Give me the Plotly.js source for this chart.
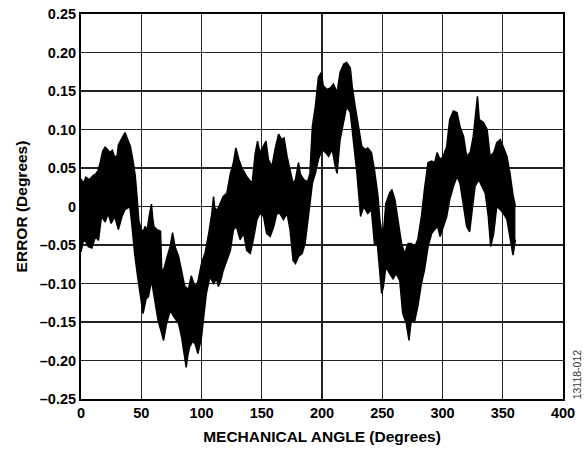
<!DOCTYPE html>
<html>
<head>
<meta charset="utf-8">
<script src="https://cdn.plot.ly/plotly-3.0.1.min.js"></script>
<style>html,body{margin:0;padding:0;background:#fff;}#chart{width:585px;height:449px;}</style>
</head>
<body>
<div id="chart"></div>
<script>
// Upper edge of the error band (mechanical angle in degrees, error in degrees)
const upperAngle = [0,2,4,7,10,12,14,16,18,20,22,24,26,28,30,31,33,35,36.5,38,39,41,43,45,46,47,48,50,52,53,55,56.5,58.5,59.5,60.5,63,66,67,69,71,74,76,78,81,83.5,86,89,91.5,94.5,97,100,103,106,108.5,110,111,113,115,118,121,124,126.5,128.5,131,133.5,137.5,142,144.5,146.5,148.5,151.5,153.5,155.5,158.5,161,164,166.5,168.5,171,173.5,176,178,180.5,182,185,188,190,192,194.5,197,199.5,201,204,207,209.5,212.5,215,218,220.5,223.5,225,227.5,230.5,233,236,238,241,243.5,246.5,248,250.5,253,256,258,260.5,263,266,268.5,271.5,274,277,279.5,282.5,285,288,291,293.5,295.5,298,300.5,303.5,306,309,312,314.5,317.5,320,323,325.5,327,329,330.5,334,337,339.5,342.5,345,348,350.5,353.5,356,358.5,360.5];
const upperError = [0.036,0.030,0.038,0.035,0.040,0.042,0.046,0.057,0.072,0.077,0.074,0.070,0.073,0.064,0.066,0.080,0.086,0.092,0.096,0.090,0.086,0.078,0.061,0.040,0.022,0.004,-0.018,-0.030,-0.032,-0.026,-0.030,-0.013,0.003,-0.015,-0.026,-0.030,-0.032,-0.085,-0.080,-0.068,-0.052,-0.034,-0.052,-0.065,-0.083,-0.103,-0.108,-0.090,-0.104,-0.098,-0.074,-0.060,-0.035,-0.010,0.013,-0.002,-0.005,0.003,0.013,0.017,0.043,0.057,0.076,0.061,0.050,0.039,0.030,0.068,0.085,0.070,0.078,0.085,0.061,0.052,0.074,0.094,0.087,0.089,0.065,0.048,0.030,0.035,0.057,0.042,0.035,0.032,0.043,0.104,0.130,0.168,0.174,0.157,0.152,0.154,0.159,0.148,0.174,0.185,0.187,0.180,0.157,0.130,0.104,0.078,0.074,0.076,0.070,0.048,0.013,-0.017,-0.043,0.004,0.017,0.022,0.009,-0.017,-0.048,-0.061,-0.048,-0.048,-0.052,-0.043,-0.013,0.022,0.057,0.059,0.057,0.070,0.061,0.065,0.078,0.113,0.124,0.122,0.104,0.091,0.065,0.070,0.091,0.113,0.143,0.113,0.109,0.100,0.065,0.070,0.083,0.087,0.078,0.065,0.043,0.015,0.000];

// Lower edge of the error band
const lowerAngle = [0,2,4,6,9,12,14.5,17,20,22.5,25,28,31,34,36.5,40.5,42,44.5,47,50,51.5,54,56,58.5,61.5,64,67,68.5,71,74,77,81,83.5,86,87.3,88.5,90,93,95,97,100,101.5,104,107,110,112.5,114,116,118,121,124,126.5,129,132,135,137.5,140.5,143,146,148.5,151.5,154,157,160,162.5,165,168,171,173.5,176,178,180.5,183.5,186,189,192,194.5,197,200,203,205.5,208.5,211,212.5,215,218,220.5,223.5,226,229,232,234.5,236,238,241,243.5,246,248,249.5,251,253,256,259,261.5,264.5,267,270,272.2,274,277,279.5,282.5,285,288,291,293.5,296,298,300.5,303.5,306,309,312,314.5,317.5,320,322.5,324.5,327,330,332.5,335.5,338,340,342.5,345,348,350.5,353.5,356,358.5,360.5];
const lowerError = [-0.059,-0.044,-0.046,-0.052,-0.054,-0.039,-0.044,-0.013,-0.020,-0.009,-0.022,-0.013,-0.030,-0.013,-0.004,0.000,-0.020,-0.061,-0.091,-0.122,-0.139,-0.120,-0.117,-0.096,-0.122,-0.148,-0.165,-0.174,-0.152,-0.135,-0.143,-0.152,-0.170,-0.200,-0.209,-0.195,-0.183,-0.174,-0.180,-0.191,-0.170,-0.148,-0.113,-0.091,-0.100,-0.094,-0.104,-0.096,-0.083,-0.070,-0.057,-0.030,-0.026,-0.043,-0.035,-0.057,-0.061,-0.043,-0.017,-0.009,-0.013,-0.035,-0.039,-0.026,-0.009,-0.009,-0.017,-0.009,-0.030,-0.070,-0.074,-0.065,-0.061,-0.048,-0.009,0.030,0.043,0.061,0.074,0.070,0.065,0.074,0.052,0.043,0.087,0.113,0.130,0.122,0.087,0.043,-0.013,0.000,-0.004,-0.009,-0.004,-0.048,-0.050,-0.087,-0.113,-0.104,-0.078,-0.087,-0.094,-0.087,-0.096,-0.139,-0.152,-0.174,-0.148,-0.148,-0.130,-0.100,-0.083,-0.052,-0.035,-0.030,-0.026,-0.039,-0.026,-0.013,0.009,0.026,0.039,0.030,0.000,-0.026,-0.033,-0.004,0.026,0.035,0.026,0.017,-0.013,-0.052,-0.035,0.000,-0.004,-0.009,-0.017,-0.039,-0.063,-0.043];

const xTickVals = [0,50,100,150,200,250,300,350,400];
const xTickText = ['0','50','100','150','200','250','300','350','400'];
const yTickVals = [0.25,0.20,0.15,0.10,0.05,0,-0.05,-0.10,-0.15,-0.20,-0.25];
const yTickText = ['0.25','0.20','0.15','0.10','0.05','0','\u20130.05','\u20130.10','\u20130.15','\u20130.20','\u20130.25'];

const FONT = 'Liberation Sans, Arial, Helvetica, sans-serif';

const traces = [
  {x: lowerAngle, y: lowerError, type: 'scatter', mode: 'lines',
   line: {color: '#000', width: 1.5}, hoverinfo: 'skip', showlegend: false},
  {x: upperAngle, y: upperError, type: 'scatter', mode: 'lines',
   fill: 'tonexty', fillcolor: '#000',
   line: {color: '#000', width: 1.5}, hoverinfo: 'skip', showlegend: false}
];

const layout = {
  width: 585, height: 449,
  margin: {l: 81, r: 22, t: 14, b: 50},
  paper_bgcolor: '#fff', plot_bgcolor: '#fff',
  font: {family: FONT, color: '#000'},
  showlegend: false,
  xaxis: {
    range: [0, 400], tickvals: xTickVals, ticktext: xTickText,
    showgrid: true, gridcolor: '#222', gridwidth: 1.2,
    showline: true, linecolor: '#000', linewidth: 2, mirror: true,
    zeroline: false, ticks: '',
    tickfont: {family: FONT, size: 14.5, weight: 'bold', color: '#000'},
    title: {text: 'MECHANICAL ANGLE (Degrees)', standoff: 11,
            font: {family: FONT, size: 15.5, weight: 'bold', color: '#000'}}
  },
  yaxis: {
    range: [-0.25, 0.25], tickvals: yTickVals, ticktext: yTickText,
    showgrid: true, gridcolor: '#222', gridwidth: 1.2,
    showline: true, linecolor: '#000', linewidth: 2, mirror: true,
    zeroline: false, ticks: '',
    tickfont: {family: FONT, size: 14.5, weight: 'bold', color: '#000'},
    title: {text: 'ERROR (Degrees)', standoff: 8,
            font: {family: FONT, size: 15.5, weight: 'bold', color: '#000'}}
  },
  annotations: [{
    text: '13118-012', xref: 'paper', yref: 'paper',
    x: 1.029, y: 0.064, textangle: -90, showarrow: false,
    xanchor: 'center', yanchor: 'middle',
    font: {family: FONT, size: 10.5, color: '#333'}
  }]
};

Plotly.newPlot('chart', traces, layout, {displayModeBar: false, staticPlot: true});
</script>
</body>
</html>
